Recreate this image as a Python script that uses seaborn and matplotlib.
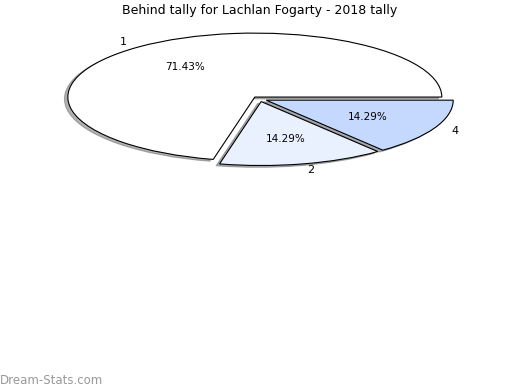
import matplotlib
matplotlib.use("Agg")
import matplotlib.pyplot as plt
import seaborn as sns

# behinds per game -> share of games
labels = ["1", "2", "4"]
values = [5, 1, 1]
colors = ["#ffffff", "#eaf1fe", "#c5d8fd"]
explode = [0.04, 0.04, 0.04]
title = "Behind tally for Lachlan Fogarty - 2018 tally"

sns.set_style("white")
plt.rcParams["font.family"] = ["DejaVu Sans"]
plt.rcParams["text.color"] = "black"

fig = plt.figure(figsize=(5.2, 3.9), dpi=100)
# squashed (tilted-looking) pie: axes wider than tall, aspect auto
ax = fig.add_axes([0.0495, 0.541, 0.899, 0.410])

wedges, texts, autotexts = ax.pie(
    values, labels=labels, colors=colors, explode=explode,
    autopct="%.2f%%", pctdistance=0.6, labeldistance=1.1,
    startangle=0, counterclock=True,
    shadow={"ox": -0.013, "oy": -0.02, "shade": 0.6},
    wedgeprops={"edgecolor": "black", "linewidth": 0.8},
    textprops={"fontsize": 7.5, "color": "black"},
)
for t in texts:
    t.set_fontsize(8)
ax.set_aspect("auto")
ax.set_xlim(-1.25, 1.25)
ax.set_ylim(-1.25, 1.25)
ax.axis("off")
for p in ax.patches:
    p.set_clip_on(False)

fig.suptitle(title, y=0.99, fontsize=9, color="black")
fig.text(0.0, 0.008, "Dream-Stats.com", color="#999999", fontsize=8.5,
         ha="left", va="bottom")

fig.savefig("out.png", dpi=100)
